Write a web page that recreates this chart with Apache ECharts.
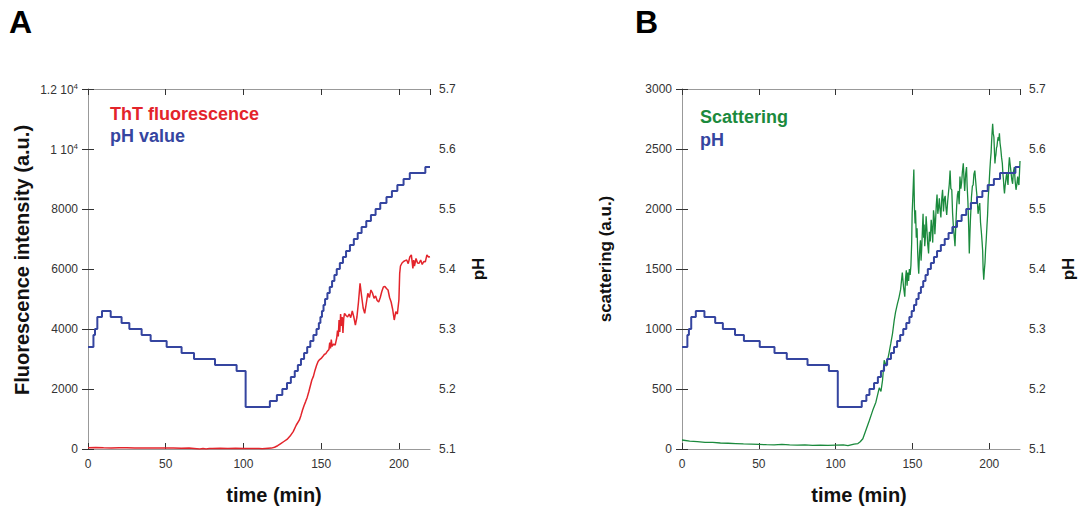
<!DOCTYPE html>
<html>
<head>
<meta charset="utf-8">
<script src="https://cdn.jsdelivr.net/npm/echarts@6/dist/echarts.min.js"></script>
<style>
  html, body { margin: 0; padding: 0; background: #fff; }
  #chart { width: 1078px; height: 512px; }
</style>
</head>
<body>
<div id="chart"></div>
<script>
// ---- panel A: ThT fluorescence + pH ----
const phTimeA = [0, 3.5, 4.5, 6, 9, 14.6, 21.6, 26.6, 34.5, 40.3, 50.6, 60.2, 68.2, 81.7, 95.6,
  101.4, 117, 121.5, 125, 128, 130.5, 133, 135, 137, 139, 141, 143, 145, 147, 148.5,
  149.5, 150.5, 151.5, 152.5, 154, 155.5, 157, 158.5, 160, 162, 164, 166, 168.5, 171, 173.5,
  176, 179, 182, 185, 188, 192, 195.5, 199, 203, 207, 217, 220];
const phValueA = [5.27, 5.29, 5.30, 5.32, 5.33, 5.32, 5.31, 5.30, 5.29, 5.28, 5.27, 5.26, 5.25, 5.24, 5.23,
  5.17, 5.18, 5.19, 5.20, 5.21, 5.22, 5.23, 5.24, 5.25, 5.26, 5.27, 5.28, 5.29, 5.30, 5.31,
  5.32, 5.33, 5.34, 5.35, 5.36, 5.37, 5.38, 5.39, 5.40, 5.41, 5.42, 5.43, 5.44, 5.45, 5.46,
  5.47, 5.48, 5.49, 5.50, 5.51, 5.52, 5.53, 5.54, 5.55, 5.56, 5.57, 5.57];

const thtTime = [
  0, 5, 10, 15, 20, 25, 30, 35, 40, 45,
  50, 55, 60, 65, 70, 72, 74, 76, 78, 80,
  85, 90, 95, 100, 105, 110, 112, 114, 118, 120,
  122, 124, 126, 128, 130, 132, 134, 136, 137, 138,
  139, 140, 141, 142, 143, 144, 145, 146, 147, 148,
  149, 150, 151, 152, 153, 154, 155, 155.5, 156, 156.5,
  157, 158, 159, 160, 160.5, 161, 161.5, 162, 162.5, 163,
  163.5, 164, 164.5, 165, 166, 167, 168, 169, 170, 171,
  172, 173, 174, 175, 176, 177, 178, 179, 180, 181,
  182, 183, 184, 185, 186, 187, 188, 189, 190, 191,
  192, 193, 194, 195, 196, 197, 198, 199, 200, 200.5,
  201, 202, 203, 204, 205, 206, 207, 208, 209, 209.5,
  210, 211, 212, 213, 214, 215, 216, 217, 218, 219, 220];
const thtValue = [
  40, 50, 40, 35, 45, 40, 30, 35, 30, 35,
  30, 30, 25, 30, 10, 0, 20, 0, 15, 20,
  25, 20, 25, 20, 15, 20, 5, 15, 30, 60,
  110, 180, 250, 320, 430, 580, 800, 970, 1120, 1300,
  1450, 1580, 1720, 1900, 2100, 2300, 2420, 2620, 2780, 2920,
  2980, 3020, 3080, 3150, 3180, 3260, 3320, 3550, 3350, 3650,
  3420, 3500, 3460, 3700, 3950, 3750, 4300, 3900, 4500, 4100,
  4400, 3870, 4350, 4520, 4450, 4400, 4500, 4380, 4600, 4400,
  4130, 4400, 4900, 5520, 5100, 4700, 4520, 4850, 5190, 5050,
  5300, 5200, 5020, 5100, 4950, 4900, 5050, 5250, 5400, 5420,
  5350, 5300, 5050, 4900, 4650, 4300, 4580, 4500, 4970, 5850,
  6100, 6200, 6250, 6280, 6300, 6180, 6400, 6470, 6020, 6300,
  6100, 6350, 6200, 6190, 6300, 6150, 6250, 6240, 6470, 6400, 6410];

// ---- panel B: scattering + pH ----
const phTimeB = [0, 3.5, 4.5, 6, 9, 14.6, 21.6, 26.6, 34.5, 40.3, 50.6, 60.2, 68.2, 81.7, 95.6,
  101.4, 117, 120, 122, 125, 127.5, 129.5, 131.5, 133.5, 136, 138, 140, 142, 144, 146,
  148, 149.5, 151, 152.5, 154, 155.5, 157, 158.5, 160, 162, 164, 166, 168.5, 171, 173.5,
  176, 179, 182, 185, 188, 192, 195.5, 199, 203, 207, 217, 220];
const phValueB = phValueA.slice();

const scatTime = [
  0, 5, 10, 15, 20, 25, 30, 35, 40, 45,
  50, 55, 60, 65, 70, 75, 80, 85, 90, 95,
  100, 105, 108, 110, 112, 114.5, 116, 117.7, 119.8, 122,
  124.1, 126.2, 128.4, 129.5, 130.5, 131.6, 133, 134.9, 135.9, 137,
  138.1, 139, 140.2, 141.2, 142.3, 143.4, 144.2,
  145, 145.5, 146, 146.5, 147, 147.5, 148, 148.5, 149, 149.5,
  149.8, 150.3, 150.9, 151.3, 151.7, 152, 152.5, 153, 153.4, 153.8,
  154.1, 154.6, 155.2, 155.6, 156, 156.5, 156.9, 157.3, 157.6, 158,
  158.4, 158.9, 159.4, 159.9, 160.5, 161, 161.6, 162.2, 162.7, 163.2,
  163.7, 164.2, 164.6, 165, 165.5, 166, 166.5, 167, 167.5, 168,
  168.5, 169.1, 169.6, 170.2, 170.7, 171.3, 171.8, 172.3, 172.9, 173.4,
  174, 174.5, 175, 175.6, 176.1, 176.6, 177.2, 177.7, 178.2, 178.8,
  179.3, 179.8, 180.4, 180.9, 181.5, 182, 182.5, 183.1, 183.6, 184,
  184.6, 185.2, 185.6, 186.1, 186.6, 187, 187.4, 187.7, 188.1, 188.4,
  189, 189.5, 190, 190.6, 191.1, 191.6, 192.2, 192.7, 193.2, 193.8,
  194.3, 194.9, 195.3, 195.7, 196, 196.4, 196.8, 197.2, 197.6, 198,
  198.5, 198.9, 199.3, 199.8, 200.3, 200.8, 201.2, 201.5, 201.9, 202.2,
  202.6, 203, 203.4, 203.7, 204, 204.3, 204.7, 205, 205.4, 205.8,
  206.2, 206.6, 207, 207.5, 208, 208.5, 208.9, 209.2, 209.6, 209.9,
  210.3, 210.6, 211, 211.4, 211.8, 212.2, 212.7, 213.1, 213.6, 214.2,
  214.7, 215.2, 215.7, 216.3, 216.8, 217.4, 218, 218.5, 219, 219.3,
  219.7, 220];
const scatValue = [
  75, 65, 62, 55, 55, 50, 48, 45, 42, 40,
  38, 36, 35, 38, 34, 32, 35, 30, 32, 30,
  32, 34, 28, 35, 40, 45, 60, 85, 160, 240,
  320, 390, 510, 480, 570, 740, 690, 810, 880, 960,
  1070, 1140, 1210, 1260, 1330, 1470, 1350,
  1270, 1420, 1490, 1360, 1470, 1400, 1500, 1450, 1530, 1720,
  1960, 2120, 2330, 2010, 1880, 1990, 1760, 1840, 1640, 1520,
  1460, 1640, 1740, 1570, 1660, 1830, 1960, 1760, 1870, 1690,
  1760, 1940, 1830, 1710, 1630, 1810, 1730, 1910, 1840, 1720,
  1990, 1920, 1790, 1890, 2030, 2120, 1960, 2010, 2090, 1990,
  1930, 2090, 2160, 1980, 2080, 2110, 2010, 1950, 2060, 2130,
  2210, 2320, 2170, 2160, 1970, 1860, 1770, 1690, 1860, 2030,
  2120, 2150, 2040, 2270, 2170, 2220, 2310, 2380, 2240, 2150,
  2290, 2350, 2190, 2060, 1850, 1630, 1790, 1900, 2010, 2100,
  2190, 2200, 2290, 2320, 2240, 2160, 2080, 1960, 2010, 2050,
  1890, 1800, 1730, 1650, 1500, 1410, 1490, 1550, 1660, 1740,
  1860, 1950, 2090, 2190, 2310, 2410, 2470, 2560, 2650, 2710,
  2630, 2600, 2470, 2380, 2430, 2450, 2510, 2520, 2570, 2600,
  2570, 2630, 2550, 2500, 2430, 2380, 2290, 2250, 2170, 2130,
  2190, 2220, 2270, 2300, 2240, 2200, 2360, 2430, 2370, 2300,
  2240, 2210, 2310, 2350, 2240, 2160, 2210, 2270, 2210, 2200,
  2310, 2400];

const FONT = "'Liberation Sans', Arial, sans-serif";
const BLUE = '#3545a0';
const RED = '#e3242b';
const GREEN = '#1b8a3d';

function zip(xs, ys) {
  return xs.map((x, i) => [x, ys[i]]);
}

const labelStyle = { color: '#333', fontSize: 12, fontFamily: FONT };
const nameStyle = { color: '#111', fontSize: 17, fontWeight: 'bold', fontFamily: FONT };
const axisLine = { show: true, lineStyle: { color: '#999', width: 1 } };
const axisTick = { show: true, inside: true, length: 6, lineStyle: { color: '#333' } };

function timeAxis(gridIndex, top, namePad) {
  return {
    type: 'value',
    gridIndex: gridIndex,
    position: top ? 'top' : 'bottom',
    min: 0,
    max: 220,
    interval: 50,
    name: top ? '' : 'time (min)',
    nameLocation: 'middle',
    nameGap: 36,
    nameTextStyle: Object.assign({}, nameStyle, { fontSize: 20, padding: [0, 0, 0, namePad] }),
    axisLine: axisLine,
    axisTick: axisTick,
    axisLabel: Object.assign({ show: !top, margin: 9, showMaxLabel: false }, labelStyle),
    splitLine: { show: false },
  };
}

function phAxis(gridIndex) {
  return {
    type: 'value',
    gridIndex: gridIndex,
    position: 'right',
    min: 5.1,
    max: 5.7,
    interval: 0.1,
    name: 'pH',
    nameLocation: 'middle',
    nameRotate: 90,
    nameGap: 40,
    nameTextStyle: nameStyle,
    axisLine: axisLine,
    axisTick: axisTick,
    axisLabel: Object.assign({ margin: 9, formatter: v => v.toFixed(1) }, labelStyle),
    splitLine: { show: false },
  };
}

// rotated names of the left axes, placed by hand
function sideName(text, x, y, size) {
  return {
    type: 'text', x: x, y: y, rotation: Math.PI / 2,
    style: { text: text, align: 'center', verticalAlign: 'middle', fontSize: size, fontWeight: 'bold', fontFamily: FONT, fill: '#111' },
  };
}

function legendText(text, x, y, color) {
  return { type: 'text', left: x, top: y, style: { text: text, fontSize: 18, fontWeight: 'bold', fontFamily: FONT, fill: color } };
}

const option = {
  backgroundColor: '#fff',
  animation: false,
  grid: [
    { left: 88, top: 89, width: 342, height: 360 },
    { left: 682, top: 89, width: 342, height: 360 },
  ],
  xAxis: [
    timeAxis(0, false, 30),
    timeAxis(0, true, 0),
    timeAxis(1, false, 16),
    timeAxis(1, true, 0),
  ],
  yAxis: [
    {
      type: 'value',
      gridIndex: 0,
      position: 'left',
      min: 0,
      max: 12000,
      interval: 2000,
      axisLine: axisLine,
      axisTick: axisTick,
      axisLabel: Object.assign({
        margin: 10,
        formatter: v => v >= 10000 ? '{b|' + (v / 10000) + ' 10}{s|4}' : String(v),
        rich: {
          b: { fontSize: 12, color: '#333', fontFamily: FONT, lineHeight: 14, verticalAlign: 'bottom' },
          s: { fontSize: 8, color: '#333', fontFamily: FONT, lineHeight: 8, verticalAlign: 'top' },
        },
      }, labelStyle),
      splitLine: { show: false },
    },
    phAxis(0),
    {
      type: 'value',
      gridIndex: 1,
      position: 'left',
      min: 0,
      max: 3000,
      interval: 500,
      axisLine: axisLine,
      axisTick: axisTick,
      axisLabel: Object.assign({ margin: 10, formatter: v => String(v) }, labelStyle),
      splitLine: { show: false },
    },
    phAxis(1),
  ],
  graphic: [
    { type: 'text', left: 9, top: 6, style: { text: 'A', fontSize: 32, fontWeight: 'bold', fontFamily: FONT, fill: '#000' } },
    { type: 'text', left: 635, top: 6, style: { text: 'B', fontSize: 32, fontWeight: 'bold', fontFamily: FONT, fill: '#000' } },
    sideName('Fluorescence intensity (a.u.)', 22, 260, 20),
    sideName('scattering (a.u.)', 605, 259, 17),
    legendText('ThT fluorescence', 110, 105, RED),
    legendText('pH value', 110, 127, BLUE),
    legendText('Scattering', 700, 108, GREEN),
    legendText('pH', 700, 131, BLUE),
  ],
  series: [
    {
      name: 'ThT fluorescence',
      type: 'line',
      xAxisIndex: 0,
      yAxisIndex: 0,
      data: zip(thtTime, thtValue),
      showSymbol: false,
      lineStyle: { color: RED, width: 1.5 },
    },
    {
      name: 'pH value',
      type: 'line',
      xAxisIndex: 0,
      yAxisIndex: 1,
      step: 'end',
      data: zip(phTimeA, phValueA),
      showSymbol: false,
      lineStyle: { color: BLUE, width: 2 },
    },
    {
      name: 'Scattering',
      type: 'line',
      xAxisIndex: 2,
      yAxisIndex: 2,
      data: zip(scatTime, scatValue),
      showSymbol: false,
      lineStyle: { color: GREEN, width: 1.3 },
    },
    {
      name: 'pH',
      type: 'line',
      xAxisIndex: 2,
      yAxisIndex: 3,
      step: 'end',
      data: zip(phTimeB, phValueB),
      showSymbol: false,
      lineStyle: { color: BLUE, width: 2 },
    },
  ],
};

const chart = echarts.init(document.getElementById('chart'), null, { renderer: 'svg' });
chart.setOption(option);
window.addEventListener('resize', () => chart.resize());
</script>
</body>
</html>
